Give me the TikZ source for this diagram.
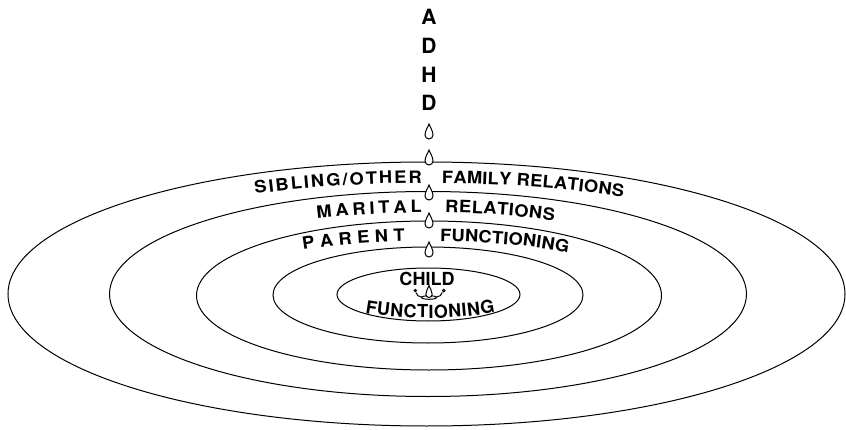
\documentclass[tikz,border=0pt]{standalone}
\usepackage{fontspec}
\setmainfont{TeX Gyre Heros}
\newfontfamily\ringfont{TeX Gyre Heros}[FakeStretch=1.08]
\usetikzlibrary{decorations.text,calc}
\newcommand\ringfmt{\ringfont\bfseries\fontsize{17}{19}\selectfont}
\newcommand\childfmt{\bfseries\fontsize{18}{20}\selectfont}
\newcommand\arctext[5]{\path[decorate,decoration={text along path,text={#5},text align=fit to path}] ($(428pt,135pt)+(#3:#1pt and #2pt)$) arc[start angle=#3,end angle=#4,x radius=#1pt,y radius=#2pt];}
\tikzset{
  ring/.style={draw=black,line width=1pt},
  adhd/.style={font=\bfseries\fontsize{21}{22}\selectfont,anchor=base,inner sep=0pt},
  dropshape/.pic={
    \path[draw=black,fill=white,line width=1pt] (0,0) .. controls (0.7,-2.7) and (4,-6.5) .. (4,-11)
      arc[start angle=0,end angle=-180,radius=4] .. controls (-4,-6.5) and (-0.7,-2.7) .. (0,0) -- cycle;
  }
}
\begin{document}
\begin{tikzpicture}[x=1pt,y=1pt]
\useasboundingbox (0,0) rectangle (846,429);
% rings
\draw[ring] (426.5,135) ellipse[x radius=418.5pt,y radius=132pt];
\draw[ring] (428,135) ellipse[x radius=318.5pt,y radius=102.5pt];
\draw[ring] (429,133.5) ellipse[x radius=232.5pt,y radius=74.5pt];
\draw[ring] (428,134) ellipse[x radius=155pt,y radius=48pt];
\draw[ring] (428.5,134.5) ellipse[x radius=91.5pt,y radius=26.5pt];
% ADHD
\node[adhd] (a1) at (429,404) {A};
\node[adhd] (a2) at (429,375) {D};
\node[adhd] (a3) at (429,346) {H};
\node[adhd] (a4) at (429,318) {D};
% drops
\pic at (429,305) {dropshape};
\pic at (429,279) {dropshape};
\pic at (429,244) {dropshape};
\pic at (429,216) {dropshape};
\pic at (429,187) {dropshape};
% splash
\draw[ring,fill=white] (429,131.5) ellipse[x radius=7.5pt,y radius=1.8pt];
\pic[scale=0.8] at (429,143.5) {dropshape};
\draw[ring] (421.5,132) .. controls (418.5,132) and (416.5,134) .. (416,136.5);
\draw[ring] (415.3,138.4) circle[radius=1.1pt];
\draw[ring] (436.5,132) .. controls (439.5,132) and (441.5,134) .. (442.3,136.5);
\draw[ring] (443.8,138.4) circle[radius=1.3pt];
% ring labels
\arctext{400}{111}{115.6}{90.9}{|\ringfmt|SIBLING/OTHER}
\arctext{400}{111}{88.0}{60.8}{|\ringfmt|FAMILY RELATIONS}
\arctext{290}{81.5}{112.5}{91.2}{|\ringfmt|MARITAL}
\arctext{290}{81.5}{86.6}{64.2}{|\ringfmt|RELATIONS}
\arctext{225}{53}{123.7}{95.9}{|\ringfmt|PARENT}
\arctext{225}{53}{86.9}{51.5}{|\ringfmt|FUNCTIONING}
% center labels
\node[font=\childfmt,anchor=base,inner sep=0pt] (child) at (427,144) {CHILD};
\arctext{103}{24}{232.3}{310.6}{|\childfmt|FUNCTIONING}
\end{tikzpicture}
\end{document}
